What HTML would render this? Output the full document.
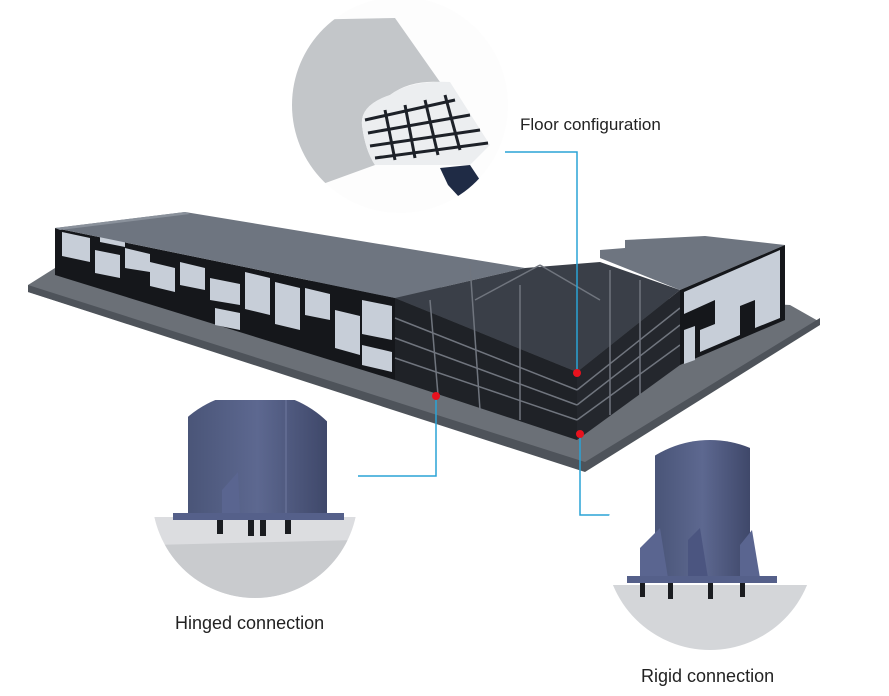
<!DOCTYPE html>
<html><head><meta charset="utf-8"><style>
html,body{margin:0;padding:0;background:#fff;}
svg{display:block;}
text{font-family:"Liberation Sans",sans-serif;font-size:17px;fill:#222;}
</style></head><body>
<svg width="889" height="696" viewBox="0 0 889 696" xmlns="http://www.w3.org/2000/svg">
<defs>
<clipPath id="cf"><circle cx="400" cy="105" r="108"/></clipPath>
<clipPath id="ch"><circle cx="255" cy="495" r="103"/></clipPath>
<clipPath id="cr"><circle cx="710" cy="545" r="105"/></clipPath>
<linearGradient id="col" x1="0" x2="1"><stop offset="0" stop-color="#4a5578"/><stop offset="0.5" stop-color="#5d6890"/><stop offset="1" stop-color="#3f486a"/></linearGradient>
</defs>

<!-- Floor circle -->
<g clip-path="url(#cf)">
<rect x="290" y="0" width="220" height="220" fill="#fdfdfd"/>
<path d="M290,20 L395,18 L440,82 Q410,80 390,95 Q360,105 362,125 Q365,150 375,165 L320,185 L290,185 Z" fill="#c3c6c9"/>
<path d="M362,125 Q365,150 375,165 L470,165 L490,145 L450,82 Q410,80 390,95 Q360,105 362,125Z" fill="#eceef0"/>
<g stroke="#1d2128" stroke-width="3">
<line x1="365" y1="120" x2="455" y2="100"/><line x1="368" y1="133" x2="470" y2="115"/><line x1="370" y1="146" x2="480" y2="130"/><line x1="375" y1="158" x2="488" y2="143"/>
<line x1="385" y1="110" x2="395" y2="160"/><line x1="405" y1="105" x2="415" y2="158"/><line x1="425" y1="100" x2="438" y2="155"/><line x1="445" y1="95" x2="460" y2="150"/>
</g>
<path d="M440,168 L470,165 L480,180 L460,198 L448,185 Z" fill="#1f2b45"/>
</g>
<text x="520" y="130">Floor configuration</text>

<!-- Slab -->
<polygon points="28,285 55,268 790,305 820,322 585,470 28,292" fill="#6b7077"/>
<polygon points="28,285 585,462 820,318 820,325 585,472 28,292" fill="#4e535a"/>
<!-- Main building front wall -->
<polygon points="55,228 395,298 395,380 55,275" fill="#15171b"/>
<g fill="#c7ced8">
<polygon points="62,232 90,238 90,262 62,256"/><polygon points="95,250 120,255 120,278 95,273"/>
<polygon points="125,248 150,254 150,272 125,268"/><polygon points="150,262 175,268 175,292 150,286"/>
<polygon points="180,262 205,268 205,290 180,285"/><polygon points="210,278 240,284 240,305 210,300"/>
<polygon points="245,272 270,278 270,315 245,309"/><polygon points="275,282 300,288 300,330 275,324"/>
<polygon points="305,288 330,294 330,320 305,315"/><polygon points="335,310 360,316 360,355 335,348"/>
<polygon points="362,300 392,306 392,340 362,334"/><polygon points="362,345 392,352 392,372 362,365"/>
<polygon points="215,308 240,313 240,330 215,325"/><polygon points="100,232 125,237 125,247 100,242"/>
</g>
<!-- Main roof -->
<polygon points="55,228 185,212 525,268 395,298" fill="#6e7580"/>
<polygon points="55,228 185,212 190,214 60,230" fill="#8a919b"/>
<!-- Frame section -->
<polygon points="395,298 525,268 600,262 680,290 577,372" fill="#3a3f48"/>
<polygon points="395,298 577,372 577,440 395,380" fill="#1f2227"/>
<polygon points="577,372 680,290 680,365 577,440" fill="#24272d"/>
<g stroke="#70757e" stroke-width="1.5" fill="none">
<line x1="395" y1="318" x2="577" y2="390"/><line x1="395" y1="338" x2="577" y2="405"/><line x1="395" y1="358" x2="577" y2="420"/>
<line x1="577" y1="390" x2="680" y2="308"/><line x1="577" y1="405" x2="680" y2="325"/><line x1="577" y1="420" x2="680" y2="345"/>
<line x1="470" y1="265" x2="480" y2="410"/><line x1="520" y1="285" x2="520" y2="420"/><line x1="430" y1="300" x2="438" y2="395"/>
<line x1="610" y1="270" x2="610" y2="415"/><line x1="640" y1="280" x2="640" y2="395"/>
<line x1="475" y1="300" x2="540" y2="265"/><line x1="540" y1="265" x2="600" y2="300"/>
</g>
<!-- Right building -->
<polygon points="600,258 600,250 625,248 625,240 705,236 785,245 680,290" fill="#6e7580"/>
<polygon points="680,290 785,245 785,320 680,365" fill="#15171b"/>
<g fill="#c7ced8">
<polygon points="684,292 780,250 780,318 755,328 755,300 740,306 740,335 700,352 700,330 715,324 715,300 684,314"/>
<polygon points="684,330 695,326 695,360 684,364"/>
</g>

<!-- Connector lines -->
<g stroke="#2aa3d6" stroke-width="1.5" fill="none">
<polyline points="505,152 577,152 577,372"/>
<polyline points="436,396 436,476 358,476"/>
<polyline points="580,434 580,515 612,515"/>
</g>
<g fill="#e8121e"><circle cx="577" cy="373" r="4"/><circle cx="436" cy="396" r="4"/><circle cx="580" cy="434" r="4"/></g>

<!-- Hinged -->
<g clip-path="url(#ch)">
<rect x="150" y="390" width="210" height="210" fill="#fff"/>
<rect x="150" y="517" width="210" height="90" fill="#dcdde0"/>
<polygon points="150,545 360,540 360,600 150,600" fill="#c9cbce"/>
<rect x="188" y="400" width="139" height="115" fill="url(#col)"/>
<line x1="286" y1="400" x2="286" y2="515" stroke="#6f7aa0"/>
<polygon points="222,515 222,490 238,472 240,515" fill="#5a6590"/>
<rect x="173" y="513" width="171" height="7" fill="#55608a"/>
<g fill="#1a1c20"><rect x="217" y="520" width="6" height="14"/><rect x="248" y="520" width="6" height="16"/><rect x="260" y="520" width="6" height="16"/><rect x="285" y="520" width="6" height="14"/></g>
</g>
<text x="175" y="629" style="font-size:18px">Hinged connection</text>

<!-- Rigid -->
<g clip-path="url(#cr)">
<rect x="600" y="435" width="220" height="220" fill="#fff"/>
<rect x="600" y="585" width="220" height="70" fill="#d4d6d9"/>
<rect x="655" y="440" width="95" height="140" fill="url(#col)"/>
<polygon points="640,578 640,548 660,528 668,578" fill="#5a6590"/>
<polygon points="688,578 688,540 700,528 708,578" fill="#4b5580"/>
<polygon points="740,578 740,545 752,530 760,578" fill="#5a6590"/>
<rect x="627" y="576" width="150" height="7" fill="#55608a"/>
<g fill="#1a1c20"><rect x="640" y="583" width="5" height="14"/><rect x="668" y="583" width="5" height="16"/><rect x="708" y="583" width="5" height="16"/><rect x="740" y="583" width="5" height="14"/></g>
</g>
<text x="641" y="682" style="font-size:18px">Rigid connection</text>
</svg>
</body></html>
